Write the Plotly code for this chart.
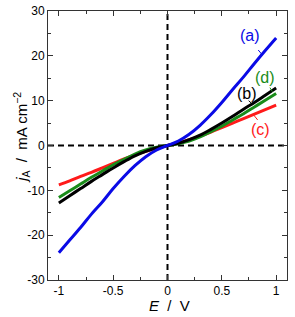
import plotly.graph_objects as go

E = [-1.0, -0.9, -0.8, -0.7, -0.6, -0.5, -0.4, -0.3, -0.2, -0.1, 0.0,
     0.1, 0.2, 0.3, 0.4, 0.5, 0.6, 0.7, 0.8, 0.9, 1.0]

j_a = [-23.9, -21.1, -18.3, -15.3, -12.6, -9.6, -6.9, -4.5, -2.5, -1.0, 0.0,
       1.0, 2.5, 4.5, 6.9, 9.6, 12.5, 15.3, 18.3, 21.2, 24.0]
j_b = [-12.8, -11.2, -9.6, -8.0, -6.5, -5.0, -3.6, -2.3, -1.3, -0.5, 0.0,
       0.5, 1.3, 2.3, 3.6, 5.0, 6.5, 8.1, 9.6, 11.2, 12.8]
j_c = [-8.8, -7.9, -6.9, -6.0, -5.0, -4.0, -3.0, -2.1, -1.3, -0.6, 0.0,
       0.6, 1.3, 2.1, 3.0, 4.0, 5.0, 6.0, 7.0, 8.0, 9.0]
j_d = [-11.6, -10.1, -8.6, -7.1, -5.7, -4.3, -3.1, -1.9, -1.0, -0.4, 0.0,
       0.4, 1.0, 1.9, 3.1, 4.3, 5.7, 7.1, 8.6, 10.1, 11.6]

series = [("(a)", j_a, "#0a0ae6"), ("(b)", j_b, "#000000"),
          ("(c)", j_c, "#ff1a1a"), ("(d)", j_d, "#1a8c1a")]

x_ticks = [-1, -0.5, 0, 0.5, 1]
x_ticktext = ["-1", "-0.5", "0", "0.5", "1"]
y_ticks = [-30, -20, -10, 0, 10, 20, 30]
y_ticktext = ["-30", "-20", "-10", "0", "10", "20", "30"]

# label positions (data coords) and leader lines
labels = {"(a)": (0.76, 24.5), "(b)": (0.735, 11.7), "(c)": (0.86, 3.6), "(d)": (0.895, 15.2)}
leaders = {"(a)": (0.835, 21.3, 0.87, 20.3), "(b)": (0.747, 10.0, 0.778, 9.3),
           "(c)": (0.79, 6.9, 0.83, 5.7), "(d)": (0.943, 12.9, 0.966, 12.0)}

FONT = "Liberation Sans, Arial"

fig = go.Figure()
# dashed zero lines
fig.add_trace(go.Scatter(x=[-1.1, 1.1], y=[0, 0], mode="lines",
                         line=dict(color="black", width=2, dash="6px,4px"),
                         showlegend=False, hoverinfo="skip"))
fig.add_trace(go.Scatter(x=[0, 0], y=[-30, 30], mode="lines",
                         line=dict(color="black", width=2, dash="6px,4px"),
                         showlegend=False, hoverinfo="skip"))

for name, ys, col in [series[2], series[3], series[1], series[0]]:
    fig.add_trace(go.Scatter(x=E, y=ys, mode="lines", name=name,
                             line=dict(color=col, width=3, shape="spline", smoothing=1.0),
                             showlegend=False))

colors = {n: c for n, _, c in series}
for name, (lx, ly) in labels.items():
    fig.add_annotation(x=lx, y=ly, text=name, showarrow=False,
                       font=dict(size=16, color=colors[name], family=FONT))
for name, (x0, y0, x1, y1) in leaders.items():
    fig.add_shape(type="line", x0=x0, y0=y0, x1=x1, y1=y1,
                  line=dict(color=colors[name], width=1))

# axis titles as annotations
fig.add_annotation(xref="paper", yref="paper", x=0.51, y=-0.093,
                   text="<i>E</i>  /  V", showarrow=False,
                   font=dict(size=15, family=FONT), xanchor="center", yanchor="middle")
fig.add_annotation(xref="paper", yref="paper", x=-0.109, y=0.532,
                   text="<i>j</i><sub>A</sub>  /  mA cm<sup>−2</sup>", showarrow=False,
                   textangle=-90, font=dict(size=15, family=FONT),
                   xanchor="center", yanchor="middle")

fig.update_layout(
    width=295, height=317,
    margin=dict(l=48, r=8, t=11, b=37),
    paper_bgcolor="white", plot_bgcolor="white",
    font=dict(family=FONT, size=12, color="black"),
    xaxis=dict(range=[-1.1, 1.1], tickvals=x_ticks, ticktext=x_ticktext,
               ticks="inside", ticklen=5, tickwidth=1, tickcolor="#333",
               showline=True, linecolor="#333", linewidth=1, mirror="ticks",
               showgrid=False, zeroline=False, automargin=False,
               minor=dict(ticks="inside", ticklen=3, dtick=0.25, tick0=0, tickcolor="#333", showgrid=False)),
    yaxis=dict(range=[-30, 30], tickvals=y_ticks, ticktext=y_ticktext,
               ticks="inside", ticklen=5, tickwidth=1, tickcolor="#333",
               showline=True, linecolor="#333", linewidth=1, mirror="ticks",
               showgrid=False, zeroline=False, automargin=False,
               minor=dict(ticks="inside", ticklen=3, dtick=5, tick0=0, tickcolor="#333", showgrid=False)),
)

fig.write_html("out.html", config={"displayModeBar": False},
               post_script="document.body.style.margin='0px';document.body.style.padding='0px';")
